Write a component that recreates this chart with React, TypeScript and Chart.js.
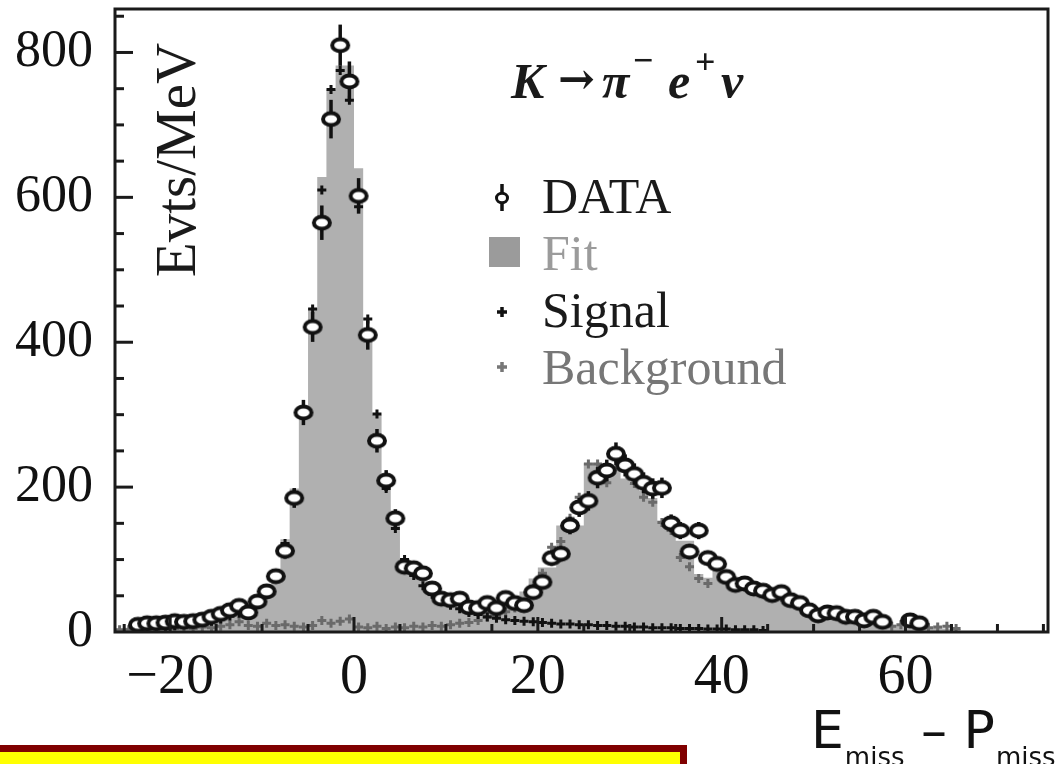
import React, { useEffect, useRef } from "react";
import { Chart, registerables } from "chart.js";

Chart.register(...registerables);

// Bin centers (MeV), 1 MeV bins
const binCenters: number[] = Array.from({ length: 92 }, (_, i) => -25.5 + i);

// DATA (events/MeV), null = no point drawn
const dataValues: (number | null)[] = [
  null, null, 10, 12, 12, 13, 15, 14, 15, 17, // -25.5 .. -16.5
  21, 25, 30, 36, 27, 42, 56, 77, 112, 185, // -15.5 .. -6.5
  303, 421, 565, 708, 810, 760, 602, 410, 264, 209, // -5.5 .. 3.5
  157, 90, 88, 81, 60, 46, 44, 46, 34, 33, // 4.5 .. 13.5
  40, 33, 47, 40, 37, 55, 69, 102, 108, 147, // 14.5 .. 23.5
  172, 181, 213, 223, 246, 230, 218, 206, 198, 199, // 24.5 .. 33.5
  150, 140, 111, 140, 102, 94, 76, 65, 67, 60, // 34.5 .. 43.5
  57, 51, 55, 44, 40, 30, 23, 27, 26, 21, // 44.5 .. 53.5
  21, 16, 21, 14, null, null, 16, 12, null, null, // 54.5 .. 63.5
  null, null, // 64.5 .. 65.5
];

// Fit histogram
const fitValues: number[] = [
  4, 6, 9, 10, 11, 12, 13, 15, 16, 18,
  21, 25, 30, 35, 38, 46, 60, 85, 128, 198,
  306, 447, 628, 749, 782, 782, 640, 405, 300, 205,
  150, 98, 84, 71, 61, 52, 47, 44, 40, 40,
  41, 42, 45, 49, 56, 74, 89, 89, 147, 147,
  147, 233, 233, 226, 226, 212, 205, 195, 185, 154,
  154, 126, 126, 80, 75, 94, 80, 72, 66, 60,
  55, 50, 46, 41, 37, 30, 26, 24, 22, 19,
  18, 15, 14, 12, 10, 10, 12, 9, 7, 6,
  5, 4,
];

// Signal component
const signalValues: (number | null)[] = [
  null, null, 6, 7, 8, 8, 9, 10, 11, 13,
  15, 18, 22, 26, 31, 39, 52, 78, 122, 192,
  300, 446, 610, 749, 775, 734, 587, 432, 301, 198,
  143, 100, 78, 64, 52, 43, 37, 32, 27, 24,
  21, 19, 17, 16, 15, 14, 13, 12, 11, 11,
  10, 10, 9, 9, 8, 8, 7, 7, 6, 6,
  6, 5, 5, 5, 4, 4, 4, 3, 3, 3,
  2, null, null, null, null, null, null, null, null, null,
  null, null, null, null, null, null, null, null, null, null,
  null, null,
];

// Background component
const backgroundValues: (number | null)[] = [
  3, 3, 4, 3, 5, 4, 5, 6, 5, 7,
  6, 8, 10, 14, 9, 8, 12, 9, 10, 8,
  7, 9, 16, 12, 15, 18, 7, 6, 8, 5,
  7, 6, 8, 7, 9, 8, 10, 12, 13, 16,
  20, 22, 28, 33, 41, 60, 81, 117, 125, 157,
  186, 232, 232, 206, 240, 229, 205, 186, 179, 151,
  140, 103, 90, 74, 67, 90, 75, 68, 62, 57,
  52, 55, 48, 42, 38, 26, 20, 24, 22, 17,
  18, 14, 18, 12, 8, 10, 14, 10, 6, 7,
  8, 5,
];

const xTickValues = [-20, 0, 20, 40, 60];
const yTickValues = [0, 200, 400, 600, 800];

const SERIF = "'Liberation Serif', 'DejaVu Serif', serif";

function makeCircleMarker(): HTMLCanvasElement {
  const c = document.createElement("canvas");
  c.width = 24;
  c.height = 19;
  const g = c.getContext("2d")!;
  g.beginPath();
  g.ellipse(12, 9.5, 8, 6, 0, 0, Math.PI * 2);
  g.fillStyle = "#ffffff";
  g.fill();
  g.lineWidth = 4;
  g.strokeStyle = "#111111";
  g.stroke();
  return c;
}

const decorPlugin = {
  id: "decor",
  beforeDatasetDraw(chart: any, args: any) {
    if (args.index !== 0) return;
    const ctx = chart.ctx;
    const area = chart.chartArea;
    const yScale = chart.scales.y;
    const meta = args.meta;
    ctx.save();
    ctx.beginPath();
    ctx.rect(area.left, area.top, area.right - area.left, area.bottom - area.top);
    ctx.clip();
    ctx.strokeStyle = "#111";
    ctx.lineWidth = 3.5;
    meta.data.forEach((pt: any, i: number) => {
      const v = dataValues[i];
      if (v == null) return;
      const e = Math.sqrt(v);
      const x = pt.x;
      ctx.beginPath();
      ctx.moveTo(x, yScale.getPixelForValue(v + e));
      ctx.lineTo(x, yScale.getPixelForValue(Math.max(0, v - e)));
      ctx.stroke();
    });
    ctx.restore();
  },
  afterDraw(chart: any) {
    const ctx = chart.ctx;
    const area = chart.chartArea;
    const xs = chart.scales.x;
    const ys = chart.scales.y;
    ctx.save();

    // inner tick marks
    ctx.strokeStyle = "#1a1a1a";
    ctx.lineWidth = 3;
    for (let v = 50; v <= 850; v += 50) {
      const y = ys.getPixelForValue(v);
      const len = v % 200 === 0 ? 18 : 9;
      ctx.beginPath();
      ctx.moveTo(area.left, y);
      ctx.lineTo(area.left + len, y);
      ctx.stroke();
    }
    for (let v = -25; v <= 75; v += 5) {
      const x = xs.getPixelForValue(v);
      const len = v % 20 === 0 ? 15 : 8;
      ctx.beginPath();
      ctx.moveTo(x, area.bottom);
      ctx.lineTo(x, area.bottom - len);
      ctx.stroke();
    }

    // frame
    ctx.lineWidth = 3;
    ctx.strokeRect(area.left, area.top, area.right - area.left, area.bottom - area.top);

    // y-axis label inside plot
    ctx.fillStyle = "#1a1a1a";
    ctx.save();
    ctx.font = `57px ${SERIF}`;
    ctx.translate(195, 160);
    ctx.rotate(-Math.PI / 2);
    ctx.textAlign = "center";
    ctx.textBaseline = "alphabetic";
    ctx.fillText("Evts/MeV", 0, 0);
    ctx.restore();

    // process title
    ctx.textAlign = "left";
    ctx.textBaseline = "alphabetic";
    const by = 98;
    ctx.font = `bold italic 50px ${SERIF}`;
    ctx.fillText("K", 511, by);
    ctx.font = `bold 44px 'DejaVu Serif', serif`;
    ctx.fillText("→", 558, by - 4);
    ctx.font = `bold italic 50px ${SERIF}`;
    ctx.fillText("π", 602, by);
    ctx.font = `bold 36px ${SERIF}`;
    ctx.fillText("−", 633, by - 26);
    ctx.font = `bold italic 50px ${SERIF}`;
    ctx.fillText("e", 668, by);
    ctx.font = `bold 36px ${SERIF}`;
    ctx.fillText("+", 695, by - 24);
    ctx.font = `bold italic 50px ${SERIF}`;
    ctx.fillText("ν", 721, by);

    // legend
    const lx = 502;
    const tx = 542;
    // DATA
    ctx.strokeStyle = "#111";
    ctx.lineWidth = 3.5;
    ctx.beginPath();
    ctx.moveTo(lx, 184);
    ctx.lineTo(lx, 211);
    ctx.stroke();
    ctx.beginPath();
    ctx.ellipse(lx, 198, 5.5, 4.8, 0, 0, Math.PI * 2);
    ctx.fillStyle = "#fff";
    ctx.fill();
    ctx.lineWidth = 3;
    ctx.stroke();
    ctx.fillStyle = "#1a1a1a";
    ctx.font = `50px ${SERIF}`;
    ctx.fillText("DATA", tx, 213);
    // Fit
    ctx.fillStyle = "#9b9b9b";
    ctx.fillRect(489, 237, 31, 30);
    ctx.fillText("Fit", tx, 270);
    // Signal
    ctx.strokeStyle = "#111";
    ctx.lineWidth = 3.5;
    ctx.beginPath();
    ctx.moveTo(lx - 5, 312);
    ctx.lineTo(lx + 5, 312);
    ctx.moveTo(lx, 307);
    ctx.lineTo(lx, 317);
    ctx.stroke();
    ctx.fillStyle = "#1a1a1a";
    ctx.fillText("Signal", tx, 327);
    // Background
    ctx.strokeStyle = "#777";
    ctx.beginPath();
    ctx.moveTo(lx - 5, 367);
    ctx.lineTo(lx + 5, 367);
    ctx.moveTo(lx, 362);
    ctx.lineTo(lx, 372);
    ctx.stroke();
    ctx.fillStyle = "#777";
    ctx.fillText("Background", tx, 384);

    // axis quantity label
    ctx.fillStyle = "#111";
    const sans = "'DejaVu Sans', sans-serif";
    let x = 811;
    const base = 748;
    const subBase = 766;
    ctx.font = `52px ${sans}`;
    ctx.fillText("E", x, base);
    x += ctx.measureText("E").width + 1;
    ctx.font = `26px ${sans}`;
    ctx.fillText("miss", x, subBase);
    x += ctx.measureText("miss").width;
    ctx.font = `52px ${sans}`;
    ctx.fillText(" – ", x, base);
    x += ctx.measureText(" – ").width;
    ctx.fillText("P", x, base);
    x += ctx.measureText("P").width + 1;
    ctx.font = `26px ${sans}`;
    ctx.fillText("miss", x, subBase);

    // yellow box
    ctx.fillStyle = "#ffff00";
    ctx.fillRect(-10, 748, 695, 40);
    ctx.strokeStyle = "#800000";
    ctx.lineWidth = 7;
    ctx.strokeRect(-10, 748.5, 693.5, 60);

    ctx.restore();
  },
};

export default function App() {
  const ref = useRef<HTMLCanvasElement | null>(null);

  useEffect(() => {
    const canvas = ref.current;
    if (!canvas) return;
    const marker = makeCircleMarker();
    const pts = (vals: (number | null)[]) =>
      binCenters.map((c, i) => ({ x: c, y: vals[i] }));
    const fitPts = fitValues.map((v, i) => ({ x: binCenters[i] - 0.5, y: v }));
    fitPts.push({ x: binCenters[binCenters.length - 1] + 0.5, y: 0 });

    const chart = new Chart(canvas, {
      type: "line",
      data: {
        datasets: [
          {
            label: "DATA",
            data: pts(dataValues) as any,
            showLine: false,
            pointStyle: marker as any,
            pointRadius: 8,
            order: 0,
          },
          {
            label: "Signal",
            data: pts(signalValues) as any,
            showLine: false,
            pointStyle: "cross",
            pointRadius: 4.5,
            borderWidth: 3,
            pointBorderWidth: 3,
            borderColor: "#111",
            pointBorderColor: "#111",
            order: 1,
          },
          {
            label: "Background",
            data: pts(backgroundValues) as any,
            showLine: false,
            pointStyle: "cross",
            pointRadius: 4.5,
            pointBorderWidth: 3,
            borderColor: "#6a6a6a",
            pointBorderColor: "#6a6a6a",
            order: 2,
          },
          {
            label: "Fit",
            data: fitPts as any,
            stepped: true,
            fill: "origin",
            backgroundColor: "#b0b0b0",
            borderColor: "rgba(0,0,0,0)",
            borderWidth: 0,
            pointRadius: 0,
            order: 3,
          },
        ],
      },
      options: {
        animation: false,
        responsive: false,
        maintainAspectRatio: false,
        layout: { padding: { left: 0, right: 12, top: 7, bottom: 0 } },
        plugins: {
          legend: { display: false },
          tooltip: { enabled: false },
          title: { display: false },
        },
        scales: {
          x: {
            type: "linear",
            min: -26,
            max: 75.5,
            grid: { display: false },
            border: { display: false },
            afterBuildTicks: (s: any) => {
              s.ticks = xTickValues.map((v) => ({ value: v }));
            },
            afterFit: (s: any) => {
              s.height = 132;
              s.paddingLeft = 0;
              s.paddingRight = 0;
            },
            ticks: {
              autoSkip: false,
              maxRotation: 0,
              padding: 5,
              color: "#111",
              font: { family: SERIF, size: 56 },
              callback: (v: any) => (Number(v) < 0 ? "−" + Math.abs(Number(v)) : String(v)),
            },
          },
          y: {
            type: "linear",
            min: 0,
            max: 860,
            grid: { display: false },
            border: { display: false },
            afterBuildTicks: (s: any) => {
              s.ticks = yTickValues.map((v) => ({ value: v }));
            },
            afterFit: (s: any) => {
              s.width = 115;
              s.paddingTop = 0;
              s.paddingBottom = 0;
            },
            ticks: {
              padding: 14,
              color: "#111",
              font: { family: SERIF, size: 52 },
              callback: (v: any) => String(v),
            },
          },
        },
      },
      plugins: [decorPlugin],
    });
    return () => chart.destroy();
  }, []);

  return (
    <div style={{ position: "fixed", left: 0, top: 0, width: 1060, height: 764, background: "#fff" }}>
      <canvas ref={ref} width={1060} height={764} style={{ display: "block" }} />
    </div>
  );
}
